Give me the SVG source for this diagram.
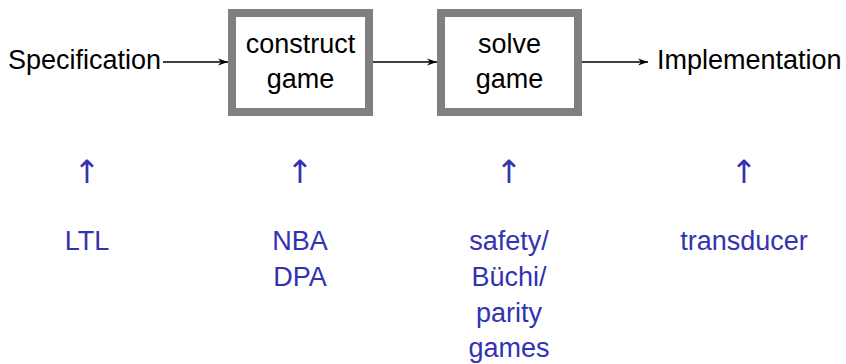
<svg xmlns="http://www.w3.org/2000/svg" width="846" height="364" viewBox="0 0 846 364">
<style>
.t{font-family:"Liberation Sans",Arial,sans-serif;font-size:27px;fill:#000}
.b{font-family:"Liberation Sans",Arial,sans-serif;font-size:27px;fill:#3333b2;text-anchor:middle}
.u{font-family:"DejaVu Sans",sans-serif;font-size:32px;fill:#3333b2;text-anchor:middle}
.box{fill:#fff;stroke:#808080;stroke-width:8}
.c{stroke:#000;stroke-width:1.3;fill:none;marker-end:url(#ah)}
</style>
<defs>
<marker id="ah" viewBox="0 0 10 10" refX="10" refY="5" markerWidth="10" markerHeight="10" markerUnits="userSpaceOnUse" orient="auto">
<path d="M0,1.5 L10,5 L0,8.5 L3,5 Z" fill="#000"/>
</marker>
</defs>
<rect width="846" height="364" fill="#fff"/>
<g id="spec"><text class="t" x="161" y="69" text-anchor="end">Specification</text></g>
<g id="construct">
<rect class="box" x="232" y="13" width="137" height="99"/>
<text class="t" x="300.5" y="53" text-anchor="middle">construct</text>
<text class="t" x="300.5" y="88" text-anchor="middle">game</text>
</g>
<g id="solve">
<rect class="box" x="441" y="13" width="137" height="99"/>
<text class="t" x="509.5" y="53" text-anchor="middle">solve</text>
<text class="t" x="509.5" y="88" text-anchor="middle">game</text>
</g>
<g id="impl"><text class="t" x="657" y="69">Implementation</text></g>
<g id="connectors">
<line class="c" x1="163" y1="62" x2="228" y2="62"/>
<line class="c" x1="373" y1="62" x2="437" y2="62"/>
<line class="c" x1="582" y1="62" x2="648" y2="62"/>
</g>
<g id="ltl">
<text class="u" x="87" y="183">↑</text>
<text class="b" x="87" y="250">LTL</text>
</g>
<g id="automata">
<text class="u" x="300" y="183">↑</text>
<text class="b" x="300" y="250">NBA</text>
<text class="b" x="300" y="286">DPA</text>
</g>
<g id="games">
<text class="u" x="509" y="183">↑</text>
<text class="b" x="509" y="250">safety/</text>
<text class="b" x="509" y="286">Büchi/</text>
<text class="b" x="509" y="322">parity</text>
<text class="b" x="509" y="357">games</text>
</g>
<g id="transducer">
<text class="u" x="744" y="183">↑</text>
<text class="b" x="744" y="250">transducer</text>
</g>
</svg>
